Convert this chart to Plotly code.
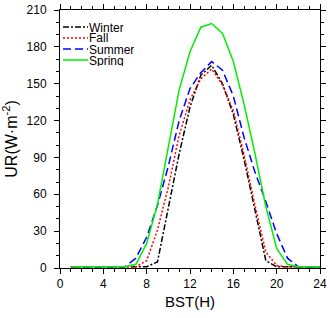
import plotly.graph_objects as go

hours = list(range(1, 25))
names = ["Winter", "Fall", "Summer", "Spring"]
winter = [1, 1, 1, 1, 1, 1, 1, 1, 5, 48, 93, 131, 157, 165, 150, 125, 88, 47, 6, 1, 1, 1, 1, 1]
fall = [1, 1, 1, 1, 1, 1, 1, 6, 31, 66, 108, 137, 154, 162, 149, 128, 92, 51, 13, 2, 1, 1, 1, 1]
summer = [1, 1, 1, 1, 1, 1, 8, 25, 51, 83, 120, 146, 159, 168, 161, 140, 106, 78, 54, 28, 8, 1, 1, 1]
spring = [1, 1, 1, 1, 1, 1, 3, 20, 52, 98, 145, 176, 196, 199, 191, 168, 133, 93, 50, 16, 3, 1, 1, 1]
series = [winter, fall, summer, spring]

colors = ["black", "red", "blue", "#00ee00"]
dashes = ["6px,2px,2px,2px", "2px,2px", "8px,4px", "solid"]

FONT = "Liberation Sans, Arial, Helvetica, sans-serif"

fig = go.Figure()
for name, vals, c, d in zip(names, series, colors, dashes):
    fig.add_trace(go.Scatter(x=hours, y=vals, mode="lines", name=name,
                             line=dict(color=c, width=1.5, dash=d),
                             showlegend=False))

# custom compact legend (top-left inside plot)
W, H = 260, 258
for i, (name, c, d) in enumerate(zip(names, colors, dashes)):
    ypx = 17 + 11 * i
    yp = 1 - ypx / H
    fig.add_shape(type="line", xref="paper", yref="paper",
                  x0=3 / W, x1=28 / W, y0=yp, y1=yp,
                  line=dict(color=c, width=1.5, dash=d))
    fig.add_annotation(xref="paper", yref="paper", x=28 / W, y=yp,
                       text=name, showarrow=False, xanchor="left", yanchor="middle",
                       font=dict(size=12, color="black", family=FONT),
                       borderpad=0, height=11, valign="middle")

axis_common = dict(showline=True, linecolor="black", linewidth=1, mirror="ticks",
                   ticks="outside", tickcolor="black", tickwidth=1, ticklen=5,
                   showgrid=False, zeroline=False, automargin=False,
                   tickfont=dict(size=12, color="black", family=FONT))

fig.update_xaxes(range=[0, 24], tickmode="linear", tick0=0, dtick=4,
                 minor=dict(ticks="outside", ticklen=3, dtick=1, tickcolor="black", showgrid=False),
                 title=dict(text="BST(H)", font=dict(size=15, color="black", family=FONT), standoff=6),
                 **axis_common)
fig.update_yaxes(range=[0, 210], tickmode="linear", tick0=0, dtick=30,
                 minor=dict(ticks="outside", ticklen=3, dtick=10, tickcolor="black", showgrid=False),
                 ticklabelstandoff=5,
                 title=dict(text="UR(W·m<sup>-2</sup>)", font=dict(size=16, color="black", family=FONT), standoff=9),
                 **axis_common)

fig.update_layout(width=330, height=318, margin=dict(l=60, r=10, t=10, b=50, autoexpand=False),
                  paper_bgcolor="white", plot_bgcolor="white",
                  font=dict(family=FONT, color="black"))

fig.write_html("out.html", config={"displayModeBar": False},
               post_script="document.body.style.margin='0';document.body.style.overflow='hidden';")
